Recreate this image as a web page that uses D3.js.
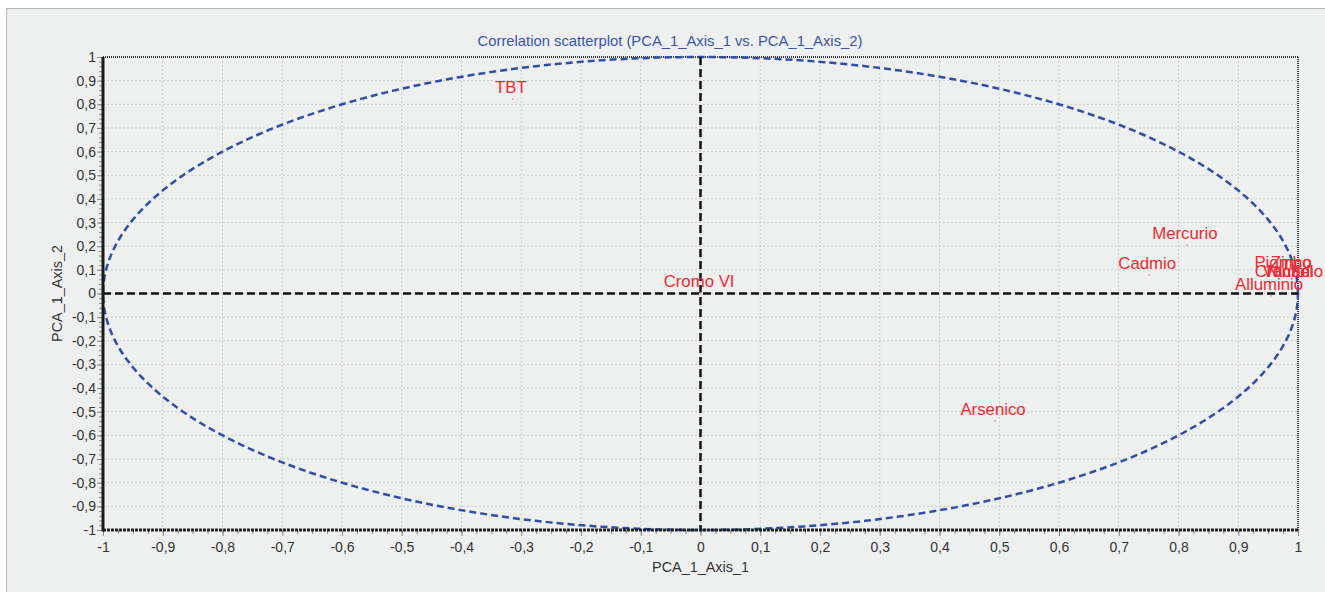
<!DOCTYPE html>
<html><head><meta charset="utf-8">
<script src="https://cdn.jsdelivr.net/npm/d3@7"></script>
<style>body{margin:0;background:#fff;}svg{display:block;}</style>
</head><body>
<script>
const labels = ["TBT","Mercurio","Cadmio","Cromo VI","Arsenico","Piombo","Zinco","Cromo","Vanadio","Nichel","Alluminio"];
const axis1 = [-0.314, 0.814, 0.751, 0.001, 0.493, 0.978, 0.992, 0.973, 0.995, 0.99, 0.955];
const axis2 = [0.822, 0.205, 0.078, 0.002, -0.539, 0.082, 0.082, 0.044, 0.044, 0.044, -0.01];
const majorTicks = d3.range(-10, 11).map(d => d / 10);
const xMinor = d3.range(-40, 41).map(d => d / 40);
const yMinor = d3.range(-50, 51).map(d => d / 50);
const title = "Correlation scatterplot (PCA_1_Axis_1 vs. PCA_1_Axis_2)";
const xTitle = "PCA_1_Axis_1", yTitle = "PCA_1_Axis_2";

const W = 1325, H = 592;
const svg = d3.select("body").append("svg").attr("width", W).attr("height", H);
svg.append("rect").attr("x", 6.5).attr("y", 8.5).attr("width", W).attr("height", H)
  .attr("fill", "#eef0ef").attr("stroke", "#b8b8b8");

const x = d3.scaleLinear().domain([-1, 1]).range([103, 1298]);
const y = d3.scaleLinear().domain([-1, 1]).range([530, 57]);
const fmt = d => (Math.abs(d) < 1e-9 ? "0" : String(+d.toFixed(1)).replace(".", ","));
const font = "'Liberation Sans', Arial, sans-serif";

// grid
const g = svg.append("g");
g.selectAll(".gx").data(majorTicks.slice(1, -1)).join("line")
  .attr("x1", d => x(d)).attr("x2", d => x(d)).attr("y1", y(1)).attr("y2", y(-1))
  .attr("stroke", "#c9c9c9").attr("stroke-dasharray", "2,2");
g.selectAll(".gy").data(majorTicks.slice(1, -1)).join("line")
  .attr("y1", d => y(d)).attr("y2", d => y(d)).attr("x1", x(-1)).attr("x2", x(1))
  .attr("stroke", "#c9c9c9").attr("stroke-dasharray", "2,2");

// border top/right dotted
svg.append("line").attr("x1", x(-1)).attr("x2", x(1)).attr("y1", y(1)).attr("y2", y(1))
  .attr("stroke", "#333").attr("stroke-width", 2).attr("stroke-dasharray", "1,1");
svg.append("line").attr("x1", x(1)).attr("x2", x(1)).attr("y1", y(1)).attr("y2", y(-1))
  .attr("stroke", "#333").attr("stroke-width", 2).attr("stroke-dasharray", "1,1");

// correlation circle
const circ = d3.range(0, 361, 2).map(a => [Math.cos(a * Math.PI / 180), Math.sin(a * Math.PI / 180)]);
svg.append("path").datum(circ)
  .attr("d", d3.line().x(d => x(d[0])).y(d => y(d[1])).curve(d3.curveLinearClosed))
  .attr("fill", "none").attr("stroke", "#2f4ea6").attr("stroke-width", 2.5).attr("stroke-dasharray", "7,4");

// zero lines
svg.append("line").attr("x1", x(-1)).attr("x2", x(1)).attr("y1", y(0)).attr("y2", y(0))
  .attr("stroke", "#111").attr("stroke-width", 2.5).attr("stroke-dasharray", "8,4");
svg.append("line").attr("x1", x(0)).attr("x2", x(0)).attr("y1", y(1)).attr("y2", y(-1))
  .attr("stroke", "#111").attr("stroke-width", 2.5).attr("stroke-dasharray", "8,4");

// axes
const xMinAx = svg.append("g").attr("transform", `translate(0,${y(-1)})`)
  .call(d3.axisBottom(x).tickValues(xMinor).tickSize(4).tickFormat(""));
const xAx = svg.append("g").attr("transform", `translate(0,${y(-1)})`)
  .call(d3.axisBottom(x).tickValues(majorTicks).tickSize(6).tickPadding(6).tickFormat(fmt));
const yMinAx = svg.append("g").attr("transform", `translate(${x(-1)},0)`)
  .call(d3.axisLeft(y).tickValues(yMinor).tickSize(4).tickFormat(""));
const yAx = svg.append("g").attr("transform", `translate(${x(-1)},0)`)
  .call(d3.axisLeft(y).tickValues(majorTicks).tickSize(6).tickPadding(1).tickFormat(fmt));
[xMinAx, xAx, yMinAx, yAx].forEach(a => {
  a.select(".domain").remove();
  a.selectAll(".tick line").attr("stroke", "#888");
  a.selectAll("text").attr("fill", "#333").style("font-family", font).style("font-size", "14px");
});
svg.append("line").attr("x1", x(-1)).attr("x2", x(1)).attr("y1", y(-1)).attr("y2", y(-1))
  .attr("stroke", "#222").attr("stroke-width", 3).attr("stroke-dasharray", "3,1");
svg.append("line").attr("x1", x(-1)).attr("x2", x(-1)).attr("y1", y(1)).attr("y2", y(-1) + 1.5)
  .attr("stroke", "#1a1a1a").attr("stroke-width", 3);

// titles
svg.append("text").attr("x", 670).attr("y", 46).attr("text-anchor", "middle")
  .attr("fill", "#3a55a8").style("font-family", font).style("font-size", "14.8px").text(title);
svg.append("text").attr("x", x(0)).attr("y", 572).attr("text-anchor", "middle")
  .attr("fill", "#333").style("font-family", font).style("font-size", "14.4px").text(xTitle);
svg.append("text").attr("transform", `translate(62,${y(0)}) rotate(-90)`).attr("text-anchor", "middle")
  .attr("fill", "#333").style("font-family", font).style("font-size", "14.4px").text(yTitle);

// points + labels
const pts = labels.map((l, i) => ({ l, a: axis1[i], b: axis2[i] }));
svg.selectAll(".pt").data(pts).join("circle")
  .attr("cx", d => x(d.a)).attr("cy", d => y(d.b)).attr("r", 1)
  .attr("fill", "#f3a0a6");
svg.selectAll(".lb").data(pts).join("text")
  .attr("x", d => x(d.a) - 2).attr("y", d => y(d.b) - 6).attr("text-anchor", "middle")
  .attr("fill", "#ee2a30").style("font-family", font).style("font-size", "16.8px").text(d => d.l);
</script>
</body></html>
